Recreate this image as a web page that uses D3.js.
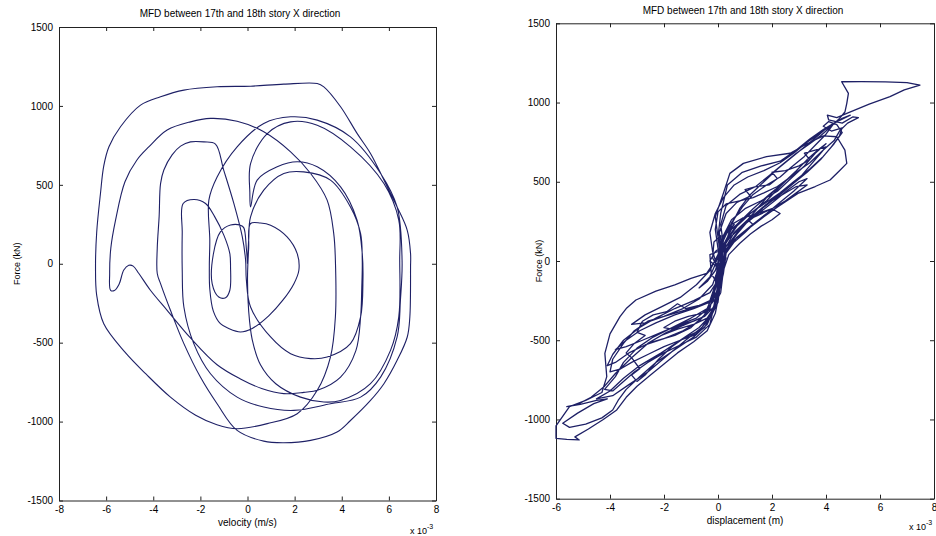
<!DOCTYPE html>
<html>
<head>
<meta charset="utf-8">
<script src="https://cdn.jsdelivr.net/npm/d3@7"></script>
<style>
  body { margin: 0; background: #fff; }
  svg text { font-family: "Liberation Sans", Arial, sans-serif; fill: #000; }
</style>
</head>
<body>
<svg id="chart" width="936" height="536"></svg>
<script>
// Tick values
const velocityTicks = [-8, -6, -4, -2, 0, 2, 4, 6, 8];
const displacementTicks = [-6, -4, -2, 0, 2, 4, 6, 8];
const forceTicks = [-1500, -1000, -500, 0, 500, 1000, 1500];

// Left panel: damper force vs inter-story velocity (velocity in 1e-3 m/s, force in kN)
const velocity = [
  0, 0.05, 0.13, 0.69, 1.54, 2.39, 3.52, 4.37, 4.8,
  4.87, 4.85, 4.8, 4.6, 3.95, 3.0, 2.39, 1.54, 0.6, -0.3, -1.29, -2.42, -3.41, -4.12, -4.61, -4.85, -5.04, -5.25, -5.45, -5.65, -5.81, -5.85, -5.8, -5.6, -5.2, -4.7, -4.19, -3.41, -2.42, -1.57, -0.44, 0.69, 1.83, 2.68, 3.38, 3.66, 3.73, 3.73, 3.52, 2.96, 2.11, 0.84, -0.44, -1.3, -2.2, -3.27, -4.3, -5.2, -6.1, -6.4, -6.45, -6.4, -6.24, -6.1, -5.88, -5.39, -4.54, -3.69, -2.70, -1.29, 0.13, 1.54, 2.96, 3.24, 3.95, 4.65, 5.22, 5.79, 6.35, 6.78, 6.92, 6.92, 6.89, 6.78, 6.35, 5.79, 5.22, 4.37, 3.80, 2.68, 1.54, 0.69, -0.44, -1.29, -2.0, -2.70, -3.27, -3.69, -3.83, -3.83, -3.75, -3.69, -3.55, -3.2, -2.84, -2.42, -1.85, -1.36, -1.01, -0.58, -0.22, -0.08, -0.05, 0.13, 0.98, 1.83, 2.68, 3.38, 4.37, 4.8, 4.9, 4.87, 4.65, 3.95, 2.96, 2.11, 1.26, 0.41, 0.13, 0.1, 0.13, 0.84, 1.83, 2.96, 4.37, 5.79, 6.42, 6.46, 6.42, 6.07, 5.22, 3.95, 3.24, 2.25, 1.2, 0.55, 0.2, 0.05, 0.0, 0.05, 0.13, 0.55, 0.98, 1.68, 2.11, 2.18, 1.97, 1.5, 0.9, 0.2, -0.3, -0.8, -1.15, -1.45, -1.6, -1.62, -1.6, -1.64, -1.29, -0.44, 0.69, 1.83, 2.96, 4.37, 5.65, 6.35, 6.56, 6.49, 6.35, 5.65, 4.80, 3.52, 1.97, 0.69, -0.44, -1.57, -2.28, -2.70, -2.77, -2.77, -2.73, -2.28, -1.78, -1.4, -1.0, -0.75, -0.72, -0.75, -0.93, -1.22, -1.5, -1.45, -1.15, -0.72, -0.3, -0.16, -0.05, 0
];
const forceV = [
  0, 150, 297, 466, 572, 582, 530, 360, 191,
  22, -150, -337, -550, -718, -800, -815, -823, -790, -730, -640, -470, -295, -168, -62, -15, -10, -40, -130, -170, -168, -60, 100, 276, 520, 656, 740, 847, 899, 921, 903, 836, 709, 572, 403, 191, 22, -337, -591, -802, -950, -1013, -1045, -1020, -960, -845, -700, -560, -380, -200, -20, 200, 445, 620, 741, 868, 1005, 1058, 1100, 1121, 1125, 1138, 1142, 1121, 995, 826, 699, 530, 360, 212, 64, -20, -337, -464, -612, -760, -866, -993, -1066, -1119, -1134, -1124, -1056, -887, -718, -506, -295, -126, -62, 100, 300, 508, 594, 690, 745, 772, 772, 758, 593, 382, 170, 22, -100, -274, -464, -570, -601, -591, -506, -337, -100, 64, 276, 487, 614, 646, 614, 530, 360, 450, 635, 825, 899, 878, 741, 508, 276, 22, -337, -549, -760, -866, -876, -845, -760, -640, -480, -300, -100, 100, 255, 258, 244, 170, 64, -41, -126, -231, -330, -410, -432, -410, -380, -300, -160, -20, 150, 403, 550, 741, 889, 931, 910, 804, 572, 360, 22, -231, -464, -718, -845, -887, -929, -908, -845, -697, -506, -274, -41, 200, 382, 407, 382, 300, 180, 64, -20, -168, -215, -211, -126, 60, 202, 245, 244, 229, 100, 0
];

// Right panel: damper force vs inter-story displacement, as [displacement (1e-3 m), force (kN)]
const displacementForce = [
  [0,0],[0.15,80],[0.1,160],[-0.15,120],[-0.2,20],[0.05,-60],[0.2,-20],[0,60],[-0.3,40],[-0.25,-80],[0,-150],[0.15,-60],[0.3,20],[0.1,-30],
  [0,80],[-0.1,200],[0,310],[0.3,360],[0.8,380],[1.3,400],[1.7,430],[2.2,470],[2.6,520],[2.3,470],[1.8,380],[1.2,300],[0.7,220],[0.3,120],[0.1,0],[0,-150],[-0.1,-280],[-0.4,-360],[-0.9,-400],[-1.5,-430],[-2.1,-470],[-2.6,-520],[-2.2,-500],[-1.6,-470],[-1,-420],[-0.5,-340],[-0.2,-220],[0.1,-80],
  [0.2,0],[0,150],[-0.1,280],[0.2,427],[0.44,553],[0.94,616],[1.8,659],[2.67,680],[3.3,740],[3.9,790],[4.4,784],[4.7,700],[4.77,616],[4.5,570],[4.15,511],[3.6,470],[2.96,427],[2.22,343],[1.7,280],[1.1,200],[0.5,120],[0.2,20],[0.1,-120],[0,-260],[-0.2,-330],[-0.7,-420],[-1.4,-500],[-2.1,-580],[-2.9,-660],[-3.5,-740],[-4,-820],[-4.5,-870],[-3.9,-850],[-3.3,-780],[-2.6,-700],[-1.9,-600],[-1.2,-500],[-0.6,-420],[-0.2,-320],[0,-160],
  [0.15,-40],[0.2,100],[0.1,230],[0.3,350],[0.8,420],[1.4,470],[1.9,540],[2.4,610],[2.9,680],[3.4,740],[3.8,790],[4.2,850],[4.5,900],[4.7,940],[4.77,995],[4.83,1058],[4.58,1131],[5.3,1132],[6.2,1130],[7,1125],[7.48,1110],[6.9,1080],[6.37,1037],[5.6,990],[4.77,932],[4.4,905],[4.05,920],[4.1,890],[4.6,870],[5,910],[5.2,905],[4.8,870],[4.5,820],[4.3,760],[3.9,700],[3.4,620],[2.9,560],[2.4,490],[1.8,400],[1.3,300],[0.8,200],[0.4,110],[0.2,0],[0.1,-150],[-0.1,-280],[-0.5,-350],[-1.2,-400],[-1.9,-450],[-2.6,-520],[-3.2,-610],[-3.8,-710],[-4.2,-790],[-4.7,-860],[-5.2,-905],[-5.6,-919],[-5.1,-905],[-4.5,-880],[-4.1,-870],[-4.6,-900],[-5.2,-960],[-5.75,-1024],[-5.5,-1050],[-4.9,-1030],[-4.3,-990],[-3.9,-940],[-3.7,-880],[-3.4,-810],[-2.9,-730],[-2.3,-640],[-1.6,-560],[-0.9,-480],[-0.4,-400],[-0.1,-280],[0.05,-100],
  [0,40],[0.2,160],[0.5,260],[1,330],[1.6,380],[2.2,440],[2.7,520],[3.2,600],[3.6,680],[4,740],[3.7,700],[3.3,640],[2.9,570],[2.4,490],[1.9,420],[1.3,330],[0.7,230],[0.3,130],[0,30],[-0.42,-78],[-1,-110],[-1.6,-150],[-2.3,-190],[-3.04,-246],[-3.4,-300],[-3.63,-351],[-4,-460],[-4.19,-583],[-4.12,-730],[-4.3,-830],[-4.9,-880],[-5.5,-919],[-6,-1040],[-6,-1119],[-5.6,-1125],[-5.14,-1129],[-5.3,-1110],[-4.8,-1060],[-4.25,-1000],[-3.75,-940],[-3.4,-860],[-3,-790],[-2.5,-720],[-2,-650],[-1.5,-580],[-0.9,-510],[-0.4,-440],[-0.1,-330],[0.05,-200],
  [0.1,-60],[0.3,60],[0.7,150],[1.2,220],[1.8,300],[2.3,370],[2.8,440],[3.3,520],[3,500],[2.6,450],[2.1,380],[1.5,300],[0.9,220],[0.4,140],[0,40],[-0.3,-60],[-0.8,-150],[-1.4,-230],[-2.1,-290],[-2.7,-340],[-3.2,-400],[-2.7,-390],[-2,-350],[-1.3,-300],[-0.7,-240],[-0.2,-150],[0,-50],
  [-0.2,60],[-0.3,180],[-0.1,300],[0.2,400],[0.6,480],[1.1,530],[1.7,570],[2.3,620],[2.8,680],[3.3,750],[3.8,810],[4.3,870],[4.9,920],[4.6,900],[4.1,850],[3.7,790],[3.2,720],[2.7,650],[2.2,580],[1.7,500],[1.2,420],[0.8,330],[0.5,230],[0.3,120],[0.2,0],[0,-120],[-0.3,-200],[-0.9,-250],[-1.6,-300],[-2.3,-360],[-2.9,-420],[-3.5,-500],[-3.9,-590],[-4.1,-660],[-3.8,-640],[-3.3,-580],[-2.7,-530],[-2,-490],[-1.3,-440],[-0.7,-380],[-0.3,-300],[-0.1,-150],
  [0,0],[0.1,120],[0.4,220],[0.9,270],[1.5,300],[2,330],[2.5,380],[2.9,430],[3.3,480],[2.9,470],[2.4,420],[1.8,360],[1.2,270],[0.7,170],[0.3,70],[0.1,-40],[0,-180],[-0.3,-260],[-0.9,-300],[-1.6,-340],[-2.3,-390],[-2.9,-440],[-3.4,-500],[-3.8,-560],[-3.4,-540],[-2.8,-500],[-2.1,-450],[-1.4,-400],[-0.8,-360],[-0.3,-290],[-0.05,-150],
  [0.1,20],[0,150],[0.1,300],[0.35,480],[0.9,560],[1.6,600],[2.3,630],[2.9,700],[3.4,770],[3.9,830],[4.3,870],[4,800],[3.6,730],[3.2,660],[2.7,590],[2.3,530],[1.8,480],[1.3,420],[0.9,340],[0.5,240],[0.2,130],[0.1,0],[-0.1,-150],[-0.3,-250],[-0.8,-290],[-1.4,-320],[-2,-350],[-2.6,-380],[-3.1,-440],[-3.5,-520],[-3.9,-620],[-4,-700],[-3.6,-680],[-3.2,-640],[-2.6,-590],[-2,-540],[-1.4,-500],[-0.9,-470],[-0.5,-420],[-0.2,-330],[0,-200],
  [0.2,-80],[0.3,50],[0.6,120],[1,180],[1.3,230],[1.1,260],[1.5,290],[2,330],[2.3,300],[2,260],[1.6,220],[1.2,170],[0.8,110],[0.4,40],[0.2,-60],[0.1,-200],[-0.2,-300],[-0.6,-330],[-1.1,-350],[-1.6,-380],[-2,-420],[-1.7,-430],[-1.3,-400],[-0.9,-380],[-0.5,-350],[-0.2,-250],[0,-100],[0.15,0],
  [0.2,100],[0.5,200],[1.1,290],[1.7,360],[2.3,430],[2.8,500],[3.4,580],[3.9,660],[4.3,740],[4.6,810],[4.4,860],[4.1,880],[3.9,850],[4.2,820],[4.6,840],[4.5,790],[4.2,720],[3.8,640],[3.3,560],[2.8,490],[2.3,420],[1.7,340],[1.1,250],[0.6,150],[0.3,50],[0.2,-80],[0,-220],[-0.4,-300],[-1,-360],[-1.7,-420],[-2.4,-480],[-3,-550],[-3.5,-640],[-3.8,-730],[-4.2,-810],[-3.9,-820],[-3.5,-760],[-3.1,-700],[-2.6,-640],[-2,-580],[-1.4,-530],[-0.8,-480],[-0.3,-400],[-0.1,-250],[0.05,-80],
  [0.1,40],[0.05,180],[0.3,300],[0.7,370],[1.2,410],[1,450],[1.4,470],[1.9,480],[2.2,520],[2,560],[2.5,570],[3,600],[3.4,640],[3.2,680],[3.6,700],[4,720],[3.8,680],[3.4,600],[3.1,540],[2.6,470],[2.1,400],[1.6,330],[1.1,260],[0.6,180],[0.3,90],[0.2,-30],[0.05,-170],[-0.2,-250],[-0.7,-280],[-1.2,-300],[-1.5,-270],[-1.9,-320],[-2.4,-340],[-2.8,-380],[-3,-450],[-2.7,-470],[-3.1,-520],[-3.4,-580],[-3.2,-610],[-2.9,-680],[-3.2,-720],[-3,-760],[-2.7,-720],[-2.2,-620],[-1.7,-540],[-1.2,-480],[-0.7,-440],[-0.3,-360],[0,-220],[0.1,-60],
  [0.1,50],[0.2,150],[0.6,230],[0.3,180],[0.1,80],[-0.1,-20],[-0.3,-100],[-0.7,-170],[-0.4,-130],[-0.1,-60],[0.05,20],[0.2,100],[-0.1,60],[-0.3,0],[0.05,-50],[0.15,0],[0,0]
];

const svg = d3.select("#chart");
const ink = "#1e2066";

function drawPanel(p) {
  const x = d3.scaleLinear().domain(p.xDomain).range([p.left, p.right]);
  const y = d3.scaleLinear().domain([-1500, 1500]).range([p.bottom, p.top]);
  const g = svg.append("g");
  const fmt = d => String(d);

  // box with inward ticks on all four sides
  g.append("g").attr("transform", `translate(0,${p.bottom})`)
    .call(d3.axisBottom(x).tickValues(p.xTicks).tickSize(-4).tickSizeOuter(0).tickPadding(5).tickFormat(fmt));
  g.append("g").attr("transform", `translate(0,${p.top})`)
    .call(d3.axisTop(x).tickValues(p.xTicks).tickSize(-4).tickSizeOuter(0).tickFormat(""));
  g.append("g").attr("transform", `translate(${p.left},0)`)
    .call(d3.axisLeft(y).tickValues(forceTicks).tickSize(-4).tickSizeOuter(0).tickPadding(6).tickFormat(fmt));
  g.append("g").attr("transform", `translate(${p.right},0)`)
    .call(d3.axisRight(y).tickValues(forceTicks).tickSize(-4).tickSizeOuter(0).tickFormat(""));
  g.selectAll(".domain, .tick line").attr("stroke", "#222").attr("stroke-width", 1);
  g.selectAll(".tick text").attr("font-size", 10).attr("fill", "#000")
    .style("font-family", "'Liberation Sans', Arial, sans-serif");

  // trajectory
  const line = d3.line().x(d => x(d[0])).y(d => y(d[1])).curve(p.curve);
  g.append("path").datum(p.points).attr("d", line)
    .attr("fill", "none").attr("stroke", ink).attr("stroke-width", p.width)
    .attr("stroke-linejoin", "round");

  // labels
  g.append("text").attr("x", p.titleX).attr("y", p.titleY).attr("text-anchor", "middle")
    .attr("font-size", 10).text("MFD between 17th and 18th story X direction");
  g.append("text").attr("x", (p.left + p.right) / 2).attr("y", p.xLabelY).attr("text-anchor", "middle")
    .attr("font-size", 10).text(p.xLabel);
  g.append("text").attr("transform", `translate(${p.yLabelX},${(p.top + p.bottom) / 2}) rotate(-90)`)
    .attr("text-anchor", "middle").attr("font-size", 9).text("Force (kN)");
  const ex = g.append("text").attr("x", p.expX).attr("y", p.expY).attr("font-size", 9);
  ex.append("tspan").text("x 10");
  ex.append("tspan").attr("dy", -5).attr("font-size", 7).text("-3");
}

drawPanel({
  left: 59, right: 436, top: 27, bottom: 500.5,
  xDomain: [-8, 8], xTicks: velocityTicks,
  points: velocity.map((v, i) => [v, forceV[i]]),
  curve: d3.curveCatmullRom.alpha(0.5), width: 1.1,
  titleX: 240, titleY: 16.5, xLabel: "velocity (m/s)", xLabelY: 526,
  yLabelX: 20, expX: 410, expY: 534
});

drawPanel({
  left: 556, right: 934, top: 23.3, bottom: 498.7,
  xDomain: [-6, 8], xTicks: displacementTicks,
  points: displacementForce,
  curve: d3.curveLinear, width: 1.3,
  titleX: 743, titleY: 14, xLabel: "displacement (m)", xLabelY: 524,
  yLabelX: 542, expX: 909, expY: 530
});
</script>
</body>
</html>
